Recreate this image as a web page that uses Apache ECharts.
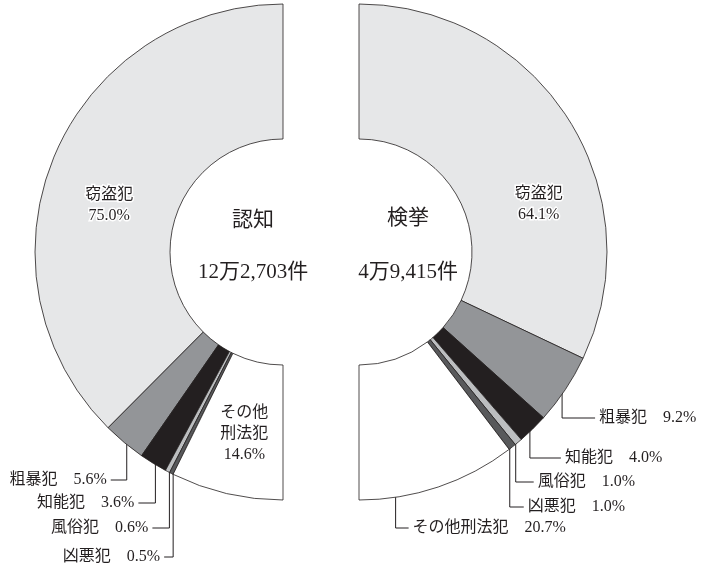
<!DOCTYPE html>
<html>
<head>
<meta charset="utf-8">
<script src="https://cdn.jsdelivr.net/npm/echarts@6/dist/echarts.min.js"></script>
<style>
  html, body { margin: 0; padding: 0; background: #fff; }
  #chart { width: 709px; height: 572px; }
</style>
</head>
<body>
<div id="chart"></div>
<script>
// data
const categories = ['窃盗犯', '粗暴犯', '知能犯', '風俗犯', '凶悪犯', 'その他刑法犯'];
const recognizedShares = [75.0, 5.6, 3.6, 0.6, 0.5, 14.6];
const clearedShares = [64.1, 9.2, 4.0, 1.0, 1.0, 20.7];
const panelTitles = ['認知', '検挙'];
const panelTotals = ['12万2,703件', '4万9,415件'];

// styling
const sliceColors = ['#e6e7e8', '#939598', '#231f20', '#bcbec0', '#58595b', '#ffffff'];
const ink = '#231f20';
const font = "'Liberation Serif', 'Noto Sans CJK JP', serif";
const R_IN = 113, R_OUT = 248, R_ANCHOR = 244;
const leftCenter = [283, 252];
const rightCenter = [359, 252];

// label placement (angle in degrees from 12 o'clock, along each half)
const leftLabelLayout = [
  { inside: true, angle: 75, r: 180 },
  { y: 480, arm: 16 },
  { y: 503, arm: 17 },
  { y: 528, arm: 17 },
  { y: 557, arm: 9 },
  { inside: true, angle: 168, r: 186, text: 'その他\n刑法犯' }
];
const rightLabelLayout = [
  { inside: true, angle: 75, r: 186 },
  { y: 418, arm: 33 },
  { y: 458, arm: 31 },
  { y: 482, arm: 18 },
  { y: 507, arm: 14 },
  { y: 528, arm: 13, shift: 10 }
];

const midAngle = (values, i) => {
  const total = values.reduce((a, b) => a + b, 0);
  let before = 0;
  for (let k = 0; k < i; k++) before += values[k];
  return (before + values[i] / 2) / total * 180;
};

const polar = (center, side, angleDeg, r) => {
  const a = angleDeg * Math.PI / 180;
  return [center[0] + side * r * Math.sin(a), center[1] - r * Math.cos(a)];
};

const makeData = (values, layout) => values.map((v, i) => {
  const l = layout[i];
  const item = { name: categories[i], value: v, itemStyle: { color: sliceColors[i] } };
  if (l.inside) {
    const title = l.text || categories[i];
    item.label = {
      position: 'inside',
      formatter: title + '\n' + v.toFixed(1) + '%',
      lineHeight: 21,
      textBorderColor: '#fff',
      textBorderWidth: i === 0 ? 3 : 0
    };
    item.labelLine = { show: false };
  } else {
    item.label = { position: 'outside', formatter: categories[i] + '　' + v.toFixed(1) + '%' };
  }
  return item;
});

const makeLabelLayout = (values, layout, center, side) => params => {
  const l = layout[params.dataIndex];
  if (l.inside) {
    const p = polar(center, side, l.angle, l.r);
    return { x: p[0], y: p[1], align: 'center', verticalAlign: 'middle' };
  }
  const a = midAngle(values, params.dataIndex) + (l.shift || 0);
  const p = polar(center, side, a, R_ANCHOR);
  const armEnd = p[0] + side * l.arm;
  return {
    x: armEnd + side * 4,
    y: l.y,
    align: side < 0 ? 'right' : 'left',
    verticalAlign: 'middle',
    labelLinePoints: [[p[0], p[1]], [p[0], l.y], [armEnd, l.y]]
  };
};

const baseSeries = {
  type: 'pie',
  radius: [R_IN, R_OUT],
  avoidLabelOverlap: false,
  silent: true,
  itemStyle: { borderColor: ink, borderWidth: 0.8 },
  label: { color: ink, fontSize: 16, fontFamily: font },
  labelLine: { show: true, lineStyle: { color: ink, width: 1 } },
  emphasis: { disabled: true }
};

const chart = echarts.init(document.getElementById('chart'), null, { renderer: 'canvas' });
chart.setOption({
  animation: false,
  backgroundColor: '#fff',
  graphic: [
    { type: 'text', x: 253, y: 220, style: { text: panelTitles[0], fill: ink, font: '21px ' + font, align: 'center', verticalAlign: 'middle' } },
    { type: 'text', x: 253, y: 272, style: { text: panelTotals[0], fill: ink, font: '21px ' + font, align: 'center', verticalAlign: 'middle' } },
    { type: 'text', x: 408, y: 218, style: { text: panelTitles[1], fill: ink, font: '21px ' + font, align: 'center', verticalAlign: 'middle' } },
    { type: 'text', x: 408, y: 272, style: { text: panelTotals[1], fill: ink, font: '21px ' + font, align: 'center', verticalAlign: 'middle' } }
  ],
  series: [
    Object.assign({}, baseSeries, {
      name: panelTitles[0],
      center: leftCenter,
      startAngle: 90,
      endAngle: 270,
      clockwise: false,
      labelLayout: makeLabelLayout(recognizedShares, leftLabelLayout, leftCenter, -1),
      data: makeData(recognizedShares, leftLabelLayout)
    }),
    Object.assign({}, baseSeries, {
      name: panelTitles[1],
      center: rightCenter,
      startAngle: 90,
      endAngle: -90,
      clockwise: true,
      labelLayout: makeLabelLayout(clearedShares, rightLabelLayout, rightCenter, 1),
      data: makeData(clearedShares, rightLabelLayout)
    })
  ]
});
window.addEventListener('resize', () => chart.resize());
</script>
</body>
</html>
